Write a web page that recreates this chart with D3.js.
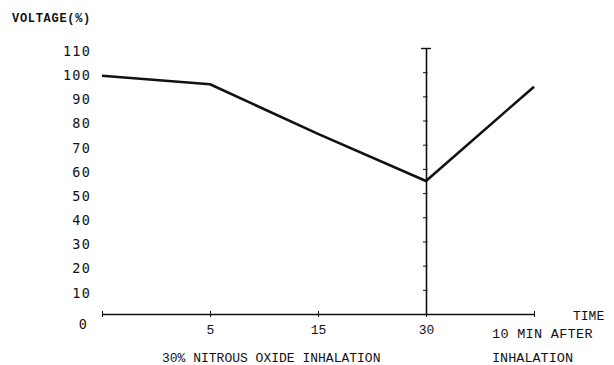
<!DOCTYPE html>
<html>
<head>
<meta charset="utf-8">
<script src="https://cdn.jsdelivr.net/npm/d3@7"></script>
<style>
  html, body { margin: 0; padding: 0; background: #fff; }
  svg { display: block; }
</style>
</head>
<body>
<svg id="chart" width="614" height="365"></svg>
<script>
// ---- data ----
const categories = ["0", "5", "15", "30", "10 MIN AFTER"];
const voltage = [98.5, 95, 74.5, 55, 94];
const yTickValues = [0, 10, 20, 30, 40, 50, 60, 70, 80, 90, 100, 110];
const xTickLabels = ["5", "15", "30"];
const yTitle = "VOLTAGE(%)";
const xTitle = "TIME";
const phaseLabel = "30% NITROUS OXIDE INHALATION";
const afterLabel = ["10 MIN AFTER", "INHALATION"];

const svg = d3.select("#chart");
const ink = "#111";

const x = d3.scalePoint().domain(categories).range([102, 534]);
const y = d3.scaleLinear().domain([0, 110]).range([314, 48]);

const monoSans = "'DejaVu Sans Mono', monospace";
const monoSerif = "'Liberation Mono', 'Courier New', monospace";

// y title
svg.append("text")
  .attr("x", 12).attr("y", 22)
  .attr("font-family", monoSerif).attr("font-size", 12).attr("font-weight", "bold")
  .attr("letter-spacing", 0.7)
  .attr("fill", ink)
  .text(yTitle);

// y labels axis (labels only)
const yLab = svg.append("g")
  .attr("transform", "translate(91,3)")
  .call(d3.axisLeft(y).tickValues(yTickValues).tickSize(0).tickPadding(0).tickFormat(d3.format("d")));
yLab.select(".domain").remove();
yLab.selectAll("text")
  .attr("font-family", monoSans).attr("font-size", 13.5).attr("fill", ink)
  .attr("letter-spacing", 1.2);
yLab.selectAll(".tick").filter(d => d === 0).select("text")
  .attr("transform", "translate(-3,7)");

// vertical axis at 30 min
const vAxis = svg.append("g")
  .attr("transform", `translate(${x("30")},0)`)
  .call(d3.axisLeft(y).tickValues(yTickValues.filter(v => v > 0)).tickSizeInner(3).tickSizeOuter(0).tickFormat(""));
vAxis.select(".domain").attr("stroke", ink).attr("stroke-width", 1.6);
vAxis.selectAll(".tick line").attr("stroke", ink).attr("x1", 1.5).attr("x2", -3);
vAxis.selectAll(".tick").filter(d => d === 110).select("line").attr("x1", 5).attr("x2", -5).attr("stroke-width", 1.4);

// horizontal axis
const hAxis = svg.append("g")
  .attr("transform", `translate(0,${y(0)})`)
  .call(d3.axisBottom(x).tickSizeInner(3).tickSizeOuter(0).tickFormat(""));
hAxis.select(".domain").attr("stroke", ink).attr("stroke-width", 1.6);
hAxis.selectAll(".tick line").attr("stroke", ink).attr("y1", -3).attr("y2", 3);

// x tick labels
const xLab = svg.append("g")
  .attr("transform", `translate(0,${y(0) + 11})`)
  .call(d3.axisBottom(x).tickValues(xTickLabels).tickSize(0).tickPadding(0));
xLab.select(".domain").remove();
xLab.selectAll("text")
  .attr("font-family", monoSerif).attr("font-size", 13).attr("fill", ink);

// after-inhalation label
svg.append("text")
  .attr("x", x("10 MIN AFTER") - 42).attr("y", 338)
  .attr("font-family", monoSerif).attr("font-size", 13.5).attr("fill", ink)
  .attr("letter-spacing", 0.3)
  .text(afterLabel[0]);
svg.append("text")
  .attr("x", x("10 MIN AFTER") - 42).attr("y", 362)
  .attr("font-family", monoSerif).attr("font-size", 13.5).attr("fill", ink)
  .text(afterLabel[1]);

// TIME
svg.append("text")
  .attr("x", 573).attr("y", 320)
  .attr("font-family", monoSerif).attr("font-size", 13).attr("fill", ink)
  .text(xTitle);

// phase label
svg.append("text")
  .attr("x", 162).attr("y", 362)
  .attr("font-family", monoSerif).attr("font-size", 13).attr("fill", ink)
  .text(phaseLabel);

// data line
const line = d3.line().x((d, i) => x(categories[i])).y(d => y(d));
svg.append("path")
  .datum(voltage)
  .attr("d", line)
  .attr("fill", "none")
  .attr("stroke", ink)
  .attr("stroke-width", 2.6)
  .attr("stroke-linejoin", "round");
</script>
</body>
</html>
